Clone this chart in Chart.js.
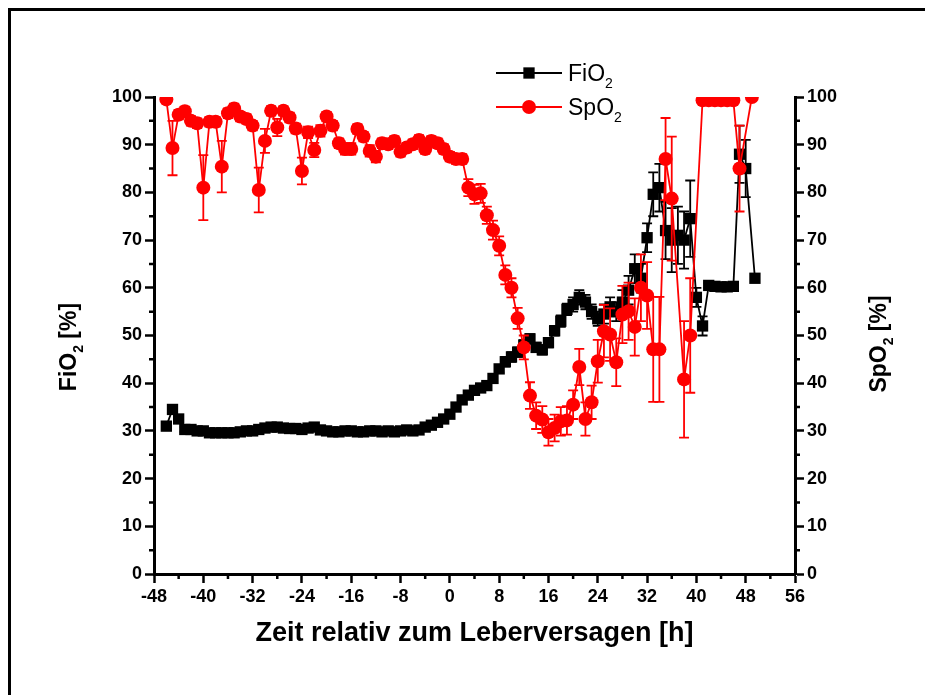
<!DOCTYPE html>
<html>
<head>
<meta charset="utf-8">
<script src="https://cdn.jsdelivr.net/npm/chart.js@4.4.0/dist/chart.umd.min.js"></script>
<style>
  html, body { margin: 0; padding: 0; background: #fff; overflow: hidden; }
  #frame { position: absolute; left: 8px; top: 8px; width: 914px; height: 684px;
           border-left: 3px solid #000; border-top: 3px solid #000; }
  #wrap { position: absolute; left: 0; top: 0; width: 925px; height: 695px; }
</style>
</head>
<body>
<div id="frame"></div>
<div id="wrap"><canvas id="chartCanvas" width="925" height="695"></canvas></div>
<script>
// time axis ticks [h]
var xTicks = [-48, -40, -32, -24, -16, -8, 0, 8, 16, 24, 32, 40, 48, 56];

// FiO2 (black squares)
var fioTime = [-46,-45,-44,-43,-42,-41,-40,-39,-38,-37,
               -36,-35,-34,-33,-32,-31,-30,-29,-28,-27,
               -26,-25,-24,-23,-22,-21,-20,-19,-18,-17,
               -16,-15,-14,-13,-12,-11,-10,-9,-8,-7,
               -6,-5,-4,-3,-2,-1,0,1,2,3,
               4,5,6,7,8,9,10,11,12,13,
               14,15,16,17,18,19,20,21,22,23,
               24,25,26,27,28,29,30,31,32,33,
               34,35,36,37,38,39,40,41,42,43,
               44,45,46,47,48,49.5];
var fioValues = [31.0,34.5,32.5,30.3,30.3,30.0,30.0,29.6,29.6,29.6,
                 29.6,29.6,29.8,30.0,30.0,30.3,30.6,30.8,30.8,30.6,
                 30.5,30.5,30.3,30.6,30.8,30.2,30.0,29.8,29.8,30.0,
                 30.0,29.8,29.8,30.0,30.0,29.8,30.0,29.8,30.0,30.2,
                 30.0,30.2,30.8,31.2,31.8,32.5,33.5,35.0,36.5,37.5,
                 38.5,39.0,39.5,41.0,43.0,44.5,45.5,46.5,48.0,49.3,
                 47.5,47.0,48.5,51.0,53.0,55.5,56.5,58.0,57.0,55.0,
                 53.5,54.5,56.0,55.0,57.0,59.5,64.0,62.0,70.5,79.6,
                 81.0,72.0,70.0,71.0,70.0,74.5,58.0,52.0,60.5,60.3,
                 60.2,60.2,60.3,88.0,85.0,62.0];
var fioErr = [0.5,0.5,0.5,0.5,0.5,0.5,0.5,0.5,0.5,0.5,
              0.5,0.5,0.5,0.5,0.5,0.5,0.5,0.5,0.5,0.5,
              0.5,0.5,0.5,0.5,0.5,0.5,0.5,0.5,0.5,0.5,
              0.5,0.5,0.5,0.5,0.5,0.5,0.5,0.5,0.5,0.5,
              0.5,0.5,0.5,0.5,0.5,0.5,0.5,0.8,0.8,0.8,
              0.8,0.8,0.8,0.8,0.8,1,1,1,1,1,
              1,1,1,1,1.2,1.2,1.5,1.5,1.5,1.5,
              1.5,2,2,2,2.5,3,3,3,3,4.6,
              5,6,6.7,6,6,8,2,2,0.5,0.5,
              0.5,0.5,0.5,6,6,0];

// SpO2 (red circles)
var spoTime = [-46,-45,-44,-43,-42,-41,-40,-39,-38,-37,
               -36,-35,-34,-33,-32,-31,-30,-29,-28,-27,
               -26,-25,-24,-23,-22,-21,-20,-19,-18,-17,
               -16,-15,-14,-13,-12,-11,-10,-9,-8,-7,
               -6,-5,-4,-3,-2,-1,0,1,2,3,
               4,5,6,7,8,9,10,11,12,13,
               14,15,16,17,18,19,20,21,22,23,
               24,25,26,27,28,29,30,31,32,33,
               34,35,36,38,39,41,42,43,44,45,
               46,47,49];
var spoValues = [99.5,89.3,96.3,97.0,95.0,94.5,81.0,94.8,94.8,85.4,
                 96.6,97.6,95.9,95.4,94.0,80.5,90.8,97.1,93.6,97.1,
                 95.7,93.4,84.5,92.6,88.9,92.9,95.9,94.0,90.3,89.1,
                 89.1,93.3,91.7,88.7,87.5,90.3,90.1,90.8,88.5,89.4,
                 90.1,91.0,89.1,90.8,90.3,89.1,87.5,87.0,87.0,81.0,
                 79.6,79.8,75.2,72.1,68.8,62.7,60.0,53.6,47.5,37.4,
                 33.2,32.4,29.7,30.6,32.0,32.2,35.5,43.4,32.5,36.0,
                 44.6,50.9,50.2,44.4,54.4,55.1,51.8,60.0,58.4,47.1,
                 47.1,87.0,78.7,40.8,50.0,99.3,99.3,99.3,99.3,99.3,
                 99.3,85.0,100];
var spoErr = [0,5.7,1,1,1,1,6.8,1,1,5.4,
              1,1,1,1,1,4.7,2.5,1,1.8,1,
              1,1,2.8,1.2,1.5,1.2,1,1,1,1.2,
              1.2,1,1,1.2,1.2,1,1,1,1,1,
              1,1,1,1,1,1,1,1,1,1.8,
              2,2,1.8,2,2,2,2,2.2,2.5,2.8,
              2.8,2.8,2.8,2.8,3,3,3,3.8,3.5,3.5,
              4.5,5.5,5.5,5,6,6,6,7,7,11,
              11,8.6,13,12.2,12,0,0,0,0,0,
              0,9,0];

var FONT = "'Liberation Sans', Arial, sans-serif";

function toPoints(t, v) {
    return t.map(function (x, i) { return { x: x, y: v[i] }; });
}

// draw text where some parts are subscripts, e.g. FiO + 2
function drawParts(ctx, parts, x, y, size, align) {
    var subSize = Math.round(size * 0.6);
    var w = 0;
    parts.forEach(function (p) {
        ctx.font = (p.bold ? 'bold ' : '') + (p.sub ? subSize : size) + 'px ' + FONT;
        p.w = ctx.measureText(p.t).width;
        w += p.w;
    });
    var cx = align === 'center' ? x - w / 2 : x;
    ctx.textAlign = 'left';
    ctx.textBaseline = 'alphabetic';
    parts.forEach(function (p) {
        ctx.font = (p.bold ? 'bold ' : '') + (p.sub ? subSize : size) + 'px ' + FONT;
        ctx.fillText(p.t, cx, p.sub ? y + size * 0.3 : y);
        cx += p.w;
    });
}

var errorBars = {
    id: 'errorBars',
    beforeDatasetDraw: function (chart, args) {
        var ds = chart.data.datasets[args.index];
        var errs = ds.errors;
        if (!errs) return;
        var yScale = chart.scales[args.meta.yAxisID];
        var ctx = chart.ctx;
        ctx.save();
        ctx.strokeStyle = ds.borderColor;
        ctx.lineWidth = 1.8;
        args.meta.data.forEach(function (pt, i) {
            var e = errs[i];
            if (!e) return;
            var v = ds.data[i].y;
            var yTop = yScale.getPixelForValue(v + e);
            var yBot = yScale.getPixelForValue(v - e);
            ctx.beginPath();
            ctx.moveTo(pt.x, yTop); ctx.lineTo(pt.x, yBot);
            ctx.moveTo(pt.x - 5, yTop); ctx.lineTo(pt.x + 5, yTop);
            ctx.moveTo(pt.x - 5, yBot); ctx.lineTo(pt.x + 5, yBot);
            ctx.stroke();
        });
        ctx.restore();
    }
};

var decorations = {
    id: 'decorations',
    afterDraw: function (chart) {
        var ctx = chart.ctx;
        var xs = chart.scales.x, yl = chart.scales.y;
        var area = chart.chartArea;
        ctx.save();
        ctx.strokeStyle = '#000';
        ctx.lineWidth = 2.5;
        ctx.beginPath();
        // minor ticks
        for (var i = 0; i < xTicks.length - 1; i++) {
            var px = xs.getPixelForValue(xTicks[i] + 4);
            ctx.moveTo(px, area.bottom); ctx.lineTo(px, area.bottom + 5);
        }
        for (var v = 5; v < 100; v += 10) {
            var py = yl.getPixelForValue(v);
            ctx.moveTo(area.left, py); ctx.lineTo(area.left - 5, py);
            ctx.moveTo(area.right, py); ctx.lineTo(area.right + 5, py);
        }
        ctx.stroke();

        ctx.fillStyle = '#000';
        // x title
        drawParts(ctx, [{ t: 'Zeit relativ zum Leberversagen [h]', bold: true }],
                  (area.left + area.right) / 2, 641, 27, 'center');
        // y titles
        ctx.save();
        ctx.translate(76, 347);
        ctx.rotate(-Math.PI / 2);
        drawParts(ctx, [{ t: 'FiO', bold: true }, { t: '2', bold: true, sub: true },
                        { t: ' [%]', bold: true }], 0, 0, 23, 'center');
        ctx.restore();
        ctx.save();
        ctx.translate(886, 344);
        ctx.rotate(-Math.PI / 2);
        drawParts(ctx, [{ t: 'SpO', bold: true }, { t: '2', bold: true, sub: true },
                        { t: ' [%]', bold: true }], 0, 0, 23, 'center');
        ctx.restore();

        // legend
        var rows = [{ ds: chart.data.datasets[0], y: 73, name: 'FiO' },
                    { ds: chart.data.datasets[1], y: 107, name: 'SpO' }];
        rows.forEach(function (r) {
            ctx.strokeStyle = r.ds.borderColor;
            ctx.fillStyle = r.ds.backgroundColor;
            ctx.lineWidth = 1.8;
            ctx.beginPath();
            ctx.moveTo(496, r.y); ctx.lineTo(562, r.y);
            ctx.stroke();
            Chart.helpers.drawPoint(ctx, { pointStyle: r.ds.pointStyle, radius: r.ds.pointRadius, borderWidth: 0 }, 529, r.y);
            ctx.fillStyle = '#000';
            drawParts(ctx, [{ t: r.name }, { t: '2', sub: true }], 568, r.y + 8, 23, 'left');
        });
        ctx.restore();
    }
};

function tickOpts() {
    return {
        color: '#000',
        font: { family: FONT, size: 18, weight: 'bold' },
        padding: 3
    };
}
function gridOpts() {
    return { drawOnChartArea: false, drawTicks: true, tickLength: 9, tickWidth: 2.5, tickColor: '#000' };
}

var ctx = document.getElementById('chartCanvas').getContext('2d');
var chart = new Chart(ctx, {
    type: 'line',
    data: {
        datasets: [{
            label: 'FiO2',
            data: toPoints(fioTime, fioValues),
            errors: fioErr,
            yAxisID: 'y',
            borderColor: '#000000',
            backgroundColor: '#000000',
            borderWidth: 1.8,
            pointStyle: 'rect',
            pointRadius: 8,
            pointBorderWidth: 0,
            tension: 0,
            order: 1
        }, {
            label: 'SpO2',
            data: toPoints(spoTime, spoValues),
            errors: spoErr,
            yAxisID: 'y2',
            borderColor: '#ff0000',
            backgroundColor: '#ff0000',
            borderWidth: 1.8,
            pointStyle: 'circle',
            pointRadius: 7,
            pointBorderWidth: 0,
            tension: 0,
            order: 0
        }]
    },
    options: {
        responsive: false,
        animation: false,
        events: [],
        layout: { padding: { top: 97, left: 0, right: 0, bottom: 0 }, autoPadding: false },
        plugins: { legend: { display: false }, tooltip: { enabled: false } },
        scales: {
            x: {
                type: 'linear', min: -48, max: 56,
                ticks: Object.assign(tickOpts(), { stepSize: 8, maxRotation: 0, autoSkip: false }),
                grid: gridOpts(),
                border: { display: true, color: '#000', width: 3 },
                afterFit: function (s) { s.height = 121; }
            },
            y: {
                position: 'left', min: 0, max: 100,
                ticks: Object.assign(tickOpts(), { stepSize: 10 }),
                grid: gridOpts(),
                border: { display: true, color: '#000', width: 3 },
                afterFit: function (s) { s.width = 154; }
            },
            y2: {
                position: 'right', min: 0, max: 100,
                ticks: Object.assign(tickOpts(), { stepSize: 10 }),
                grid: gridOpts(),
                border: { display: true, color: '#000', width: 3 },
                afterFit: function (s) { s.width = 130; }
            }
        }
    },
    plugins: [errorBars, decorations]
});
</script>
</body>
</html>
